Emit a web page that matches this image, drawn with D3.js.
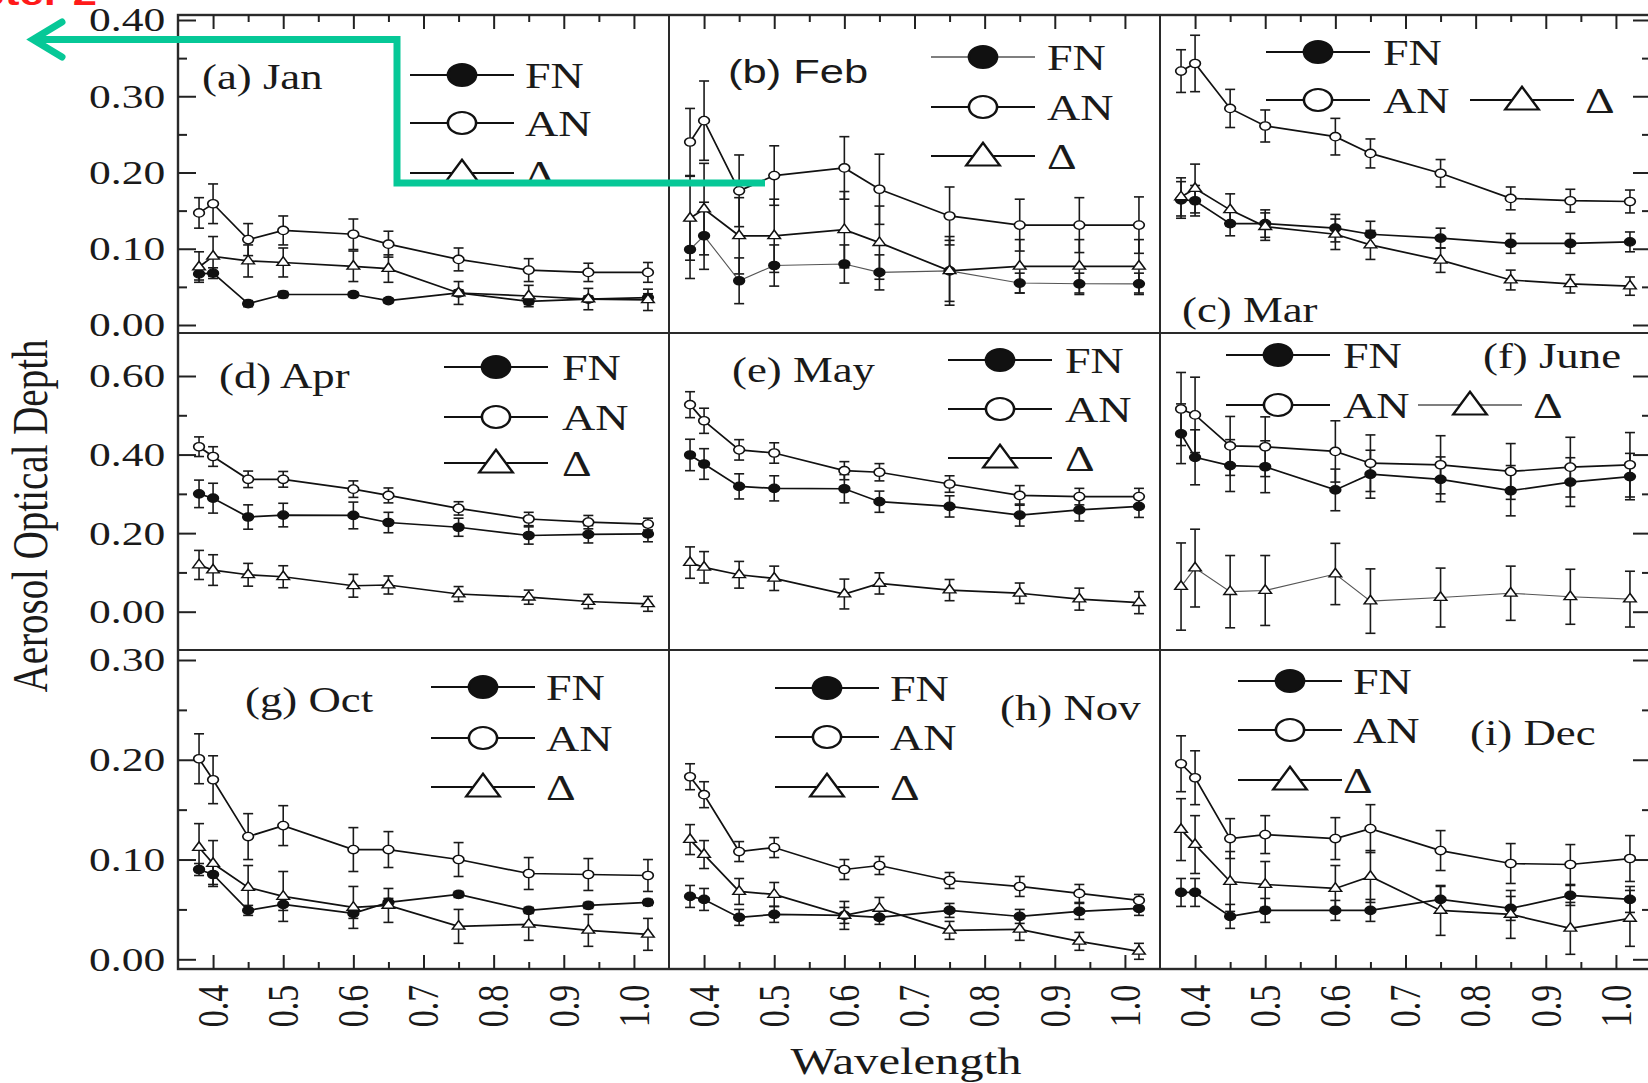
<!DOCTYPE html>
<html>
<head>
<meta charset="utf-8">
<script src="https://cdn.jsdelivr.net/npm/d3@7"></script>
<style>
  body { margin: 0; background: #fff; }
  svg { display: block; }
</style>
</head>
<body>
<div id="chart"></div>
<script>
// wavelengths (um) and tick values
const wavelengths = [0.38, 0.40, 0.45, 0.50, 0.60, 0.65, 0.75, 0.85, 0.935, 1.02];
const xTicks = [0.4, 0.5, 0.6, 0.7, 0.8, 0.9, 1.0];
const xMinor = [0.45, 0.55, 0.65, 0.75, 0.85, 0.95];
const yTicksRow = [[0, 0.1, 0.2, 0.3, 0.4], [0, 0.2, 0.4, 0.6], [0, 0.1, 0.2, 0.3]];
const yMinorRow = [[0.05, 0.15, 0.25, 0.35], [0.1, 0.3, 0.5], [0.05, 0.15, 0.25]];
const panelLabels = ["(a) Jan", "(b) Feb", "(c) Mar", "(d) Apr", "(e) May", "(f) June", "(g) Oct", "(h) Nov", "(i) Dec"];

// AOD per month: FN, AN, delta (value + error half-width)
const janFN  = [0.067, 0.068, 0.028, 0.040, 0.040, 0.032, 0.042, 0.031, 0.034, 0.036];
const janFNe = [0.008, 0.007, 0.004, 0.004, 0.003, 0.003, 0.004, 0.004, 0.004, 0.005];
const janAN  = [0.147, 0.159, 0.112, 0.124, 0.119, 0.106, 0.086, 0.072, 0.069, 0.069];
const janANe = [0.020, 0.026, 0.021, 0.019, 0.020, 0.017, 0.015, 0.015, 0.012, 0.013];
const janD   = [0.076, 0.090, 0.084, 0.082, 0.077, 0.074, 0.042, 0.038, 0.034, 0.033];
const janDe  = [0.020, 0.026, 0.021, 0.019, 0.020, 0.018, 0.015, 0.014, 0.014, 0.014];

const febFN  = [0.099, 0.117, 0.058, 0.078, 0.080, 0.069, 0.071, 0.055, 0.054, 0.054];
const febFNe = [0.038, 0.044, 0.030, 0.027, 0.025, 0.023, 0.040, 0.013, 0.014, 0.014];
const febAN  = [0.240, 0.268, 0.176, 0.196, 0.206, 0.178, 0.143, 0.131, 0.131, 0.131];
const febANe = [0.044, 0.052, 0.047, 0.039, 0.041, 0.046, 0.038, 0.034, 0.036, 0.037];
const febD   = [0.140, 0.152, 0.117, 0.117, 0.125, 0.108, 0.071, 0.077, 0.077, 0.077];
const febDe  = [0.055, 0.060, 0.050, 0.048, 0.050, 0.048, 0.045, 0.035, 0.035, 0.035];

const marFN  = [0.164, 0.163, 0.133, 0.133, 0.127, 0.119, 0.114, 0.107, 0.107, 0.109];
const marFNe = [0.024, 0.020, 0.016, 0.018, 0.018, 0.017, 0.013, 0.013, 0.013, 0.013];
const marAN  = [0.333, 0.343, 0.284, 0.261, 0.247, 0.225, 0.199, 0.166, 0.163, 0.162];
const marANe = [0.028, 0.037, 0.025, 0.021, 0.024, 0.019, 0.018, 0.015, 0.015, 0.015];
const marD   = [0.168, 0.179, 0.151, 0.129, 0.119, 0.105, 0.085, 0.059, 0.054, 0.051];
const marDe  = [0.025, 0.032, 0.021, 0.018, 0.020, 0.019, 0.016, 0.013, 0.012, 0.012];

const aprFN  = [0.300, 0.289, 0.241, 0.246, 0.245, 0.227, 0.215, 0.194, 0.197, 0.198];
const aprFNe = [0.035, 0.038, 0.031, 0.030, 0.034, 0.026, 0.023, 0.022, 0.022, 0.020];
const aprAN  = [0.420, 0.395, 0.337, 0.337, 0.312, 0.296, 0.263, 0.236, 0.228, 0.223];
const aprANe = [0.025, 0.025, 0.021, 0.020, 0.021, 0.019, 0.017, 0.017, 0.017, 0.015];
const aprD   = [0.119, 0.106, 0.094, 0.089, 0.066, 0.068, 0.045, 0.037, 0.026, 0.020];
const aprDe  = [0.037, 0.039, 0.029, 0.028, 0.029, 0.023, 0.019, 0.018, 0.018, 0.019];

const mayFN  = [0.399, 0.376, 0.319, 0.314, 0.313, 0.280, 0.268, 0.246, 0.259, 0.268];
const mayFNe = [0.040, 0.039, 0.032, 0.032, 0.036, 0.027, 0.027, 0.028, 0.028, 0.028];
const mayAN  = [0.527, 0.486, 0.412, 0.404, 0.359, 0.355, 0.325, 0.296, 0.293, 0.293];
const mayANe = [0.033, 0.032, 0.026, 0.026, 0.023, 0.022, 0.021, 0.025, 0.021, 0.021];
const mayD   = [0.125, 0.113, 0.094, 0.085, 0.045, 0.072, 0.055, 0.047, 0.032, 0.023];
const mayDe  = [0.040, 0.040, 0.034, 0.031, 0.038, 0.027, 0.027, 0.026, 0.028, 0.028];

const junFN  = [0.453, 0.393, 0.372, 0.369, 0.310, 0.350, 0.337, 0.308, 0.330, 0.344];
const junFNe = [0.076, 0.070, 0.066, 0.066, 0.053, 0.061, 0.057, 0.064, 0.062, 0.059];
const junAN  = [0.516, 0.501, 0.422, 0.420, 0.408, 0.378, 0.374, 0.357, 0.368, 0.374];
const junANe = [0.093, 0.096, 0.075, 0.076, 0.078, 0.072, 0.074, 0.071, 0.076, 0.082];
const junD   = [0.064, 0.111, 0.051, 0.054, 0.096, 0.027, 0.036, 0.047, 0.038, 0.032];
const junDe  = [0.111, 0.099, 0.092, 0.089, 0.078, 0.082, 0.075, 0.069, 0.070, 0.071];

const octFN  = [0.090, 0.085, 0.049, 0.055, 0.046, 0.057, 0.065, 0.049, 0.054, 0.057];
const octFNe = [0.006, 0.010, 0.005, 0.006, 0.005, 0.004, 0.003, 0.003, 0.003, 0.003];
const octAN  = [0.201, 0.180, 0.123, 0.134, 0.110, 0.110, 0.100, 0.086, 0.085, 0.084];
const octANe = [0.025, 0.024, 0.023, 0.020, 0.022, 0.018, 0.017, 0.016, 0.016, 0.016];
const octD   = [0.112, 0.096, 0.072, 0.063, 0.052, 0.054, 0.033, 0.035, 0.029, 0.025];
const octDe  = [0.024, 0.023, 0.022, 0.025, 0.021, 0.017, 0.017, 0.016, 0.016, 0.016];

const novFN  = [0.063, 0.060, 0.042, 0.045, 0.044, 0.042, 0.049, 0.043, 0.048, 0.051];
const novFNe = [0.011, 0.011, 0.008, 0.008, 0.008, 0.007, 0.007, 0.007, 0.008, 0.007];
const novAN  = [0.183, 0.165, 0.108, 0.112, 0.090, 0.094, 0.079, 0.073, 0.066, 0.059];
const novANe = [0.013, 0.013, 0.010, 0.010, 0.010, 0.009, 0.008, 0.010, 0.009, 0.006];
const novD   = [0.120, 0.105, 0.068, 0.065, 0.044, 0.051, 0.029, 0.030, 0.018, 0.008];
const novDe  = [0.015, 0.014, 0.013, 0.012, 0.014, 0.011, 0.009, 0.011, 0.009, 0.008];

const decFN  = [0.067, 0.067, 0.043, 0.049, 0.049, 0.049, 0.060, 0.051, 0.064, 0.060];
const decFNe = [0.014, 0.014, 0.012, 0.012, 0.010, 0.011, 0.013, 0.012, 0.010, 0.013];
const decAN  = [0.196, 0.182, 0.121, 0.125, 0.121, 0.131, 0.109, 0.096, 0.095, 0.101];
const decANe = [0.028, 0.027, 0.020, 0.019, 0.021, 0.024, 0.020, 0.020, 0.020, 0.023];
const decD   = [0.130, 0.115, 0.078, 0.075, 0.071, 0.083, 0.049, 0.045, 0.031, 0.041];
const decDe  = [0.031, 0.029, 0.030, 0.023, 0.023, 0.026, 0.025, 0.024, 0.026, 0.028];

// ---- layout ----
const W = 1648, H = 1083;
const SX = 1.28;   // the figure is stretched horizontally
const serif = "'Liberation Serif','Times New Roman',serif";
const sans = "'Liberation Sans',Arial,sans-serif";
const colX = [178, 669, 1160], colW = 491;
const rowTop = [15, 333, 650], rowBot = [333, 650, 969];
const rowZero = [325, 611.7, 959.3], rowTopTick = [20, 376, 660];

const series = [
  { key: "FN", name: "FN", type: d3.symbolCircle, size: 55, legSize: 380, fill: "#111" },
  { key: "AN", name: "AN", type: d3.symbolCircle, size: 55, legSize: 380, fill: "#fff" },
  { key: "D",  name: "\u0394", type: d3.symbolTriangle, size: 42, legSize: 300, fill: "#fff" }
];

// legend placement per panel: [markerX, y, labelX] for FN, AN, delta
const legendPos = [
  [[462, 75, 525], [462, 123, 525], [462, 173, 525]],
  [[983, 57, 1047], [983, 107, 1047], [983, 156, 1047]],
  [[1318, 52, 1383], [1318, 100, 1383], [1522, 100, 1585]],
  [[496, 367, 562], [496, 417, 562], [496, 463, 562]],
  [[1000, 360, 1065], [1000, 409, 1065], [1000, 458, 1065]],
  [[1278, 355, 1343], [1278, 405, 1343], [1470, 405, 1533]],
  [[483, 687, 546], [483, 738, 546], [483, 787, 546]],
  [[827, 688, 890], [827, 737, 890], [827, 787, 890]],
  [[1290, 681, 1353], [1290, 730, 1353], [1290, 780, 1343]]
];
const labelPos = [[202, 89], [728, 83], [1182, 322], [219, 388], [732, 382], [1483, 368], [245, 712], [1000, 720], [1470, 745]];

const panels = [
  { r: 0, c: 0, FN: janFN, FNe: janFNe, AN: janAN, ANe: janANe, D: janD, De: janDe },
  { r: 0, c: 1, FN: febFN, FNe: febFNe, AN: febAN, ANe: febANe, D: febD, De: febDe, thin: "FN", sansLabel: true },
  { r: 0, c: 2, FN: marFN, FNe: marFNe, AN: marAN, ANe: marANe, D: marD, De: marDe },
  { r: 1, c: 0, FN: aprFN, FNe: aprFNe, AN: aprAN, ANe: aprANe, D: aprD, De: aprDe },
  { r: 1, c: 1, FN: mayFN, FNe: mayFNe, AN: mayAN, ANe: mayANe, D: mayD, De: mayDe },
  { r: 1, c: 2, FN: junFN, FNe: junFNe, AN: junAN, ANe: junANe, D: junD, De: junDe, thin: "D" },
  { r: 2, c: 0, FN: octFN, FNe: octFNe, AN: octAN, ANe: octANe, D: octD, De: octDe },
  { r: 2, c: 1, FN: novFN, FNe: novFNe, AN: novAN, ANe: novANe, D: novD, De: novDe },
  { r: 2, c: 2, FN: decFN, FNe: decFNe, AN: decAN, ANe: decANe, D: decD, De: decDe }
];

const svg = d3.select("#chart").append("svg")
  .attr("width", W).attr("height", H)
  .style("background", "#fff");

// text helper: stretched glyphs like the original
function addText(g, x, y, str, size, opts = {}) {
  const rot = opts.rotate ? ` rotate(${opts.rotate})` : "";
  return g.append("text")
    .attr("transform", `translate(${x},${y}) scale(${SX},1)${rot}`)
    .attr("y", opts.dy || 0)
    .attr("text-anchor", opts.anchor || "start")
    .attr("font-family", opts.family || serif)
    .attr("font-size", size)
    .attr("font-weight", opts.weight || "normal")
    .attr("fill", opts.fill || "#1a1a1a")
    .text(str);
}

function xScale(c) {
  return d3.scaleLinear().domain([0.35, 1.05]).range([colX[c], colX[c] + colW]);
}
function yScale(r) {
  const top = d3.max(yTicksRow[r]);
  return d3.scaleLinear().domain([0, top]).range([rowZero[r], rowTopTick[r]]);
}

function styleAxis(g) {
  g.select(".domain").remove();
  g.selectAll(".tick line").attr("stroke", "#222").attr("stroke-width", 2);
}

// ---- frame and axes ----
const frame = svg.append("g");
frame.append("rect")
  .attr("x", colX[0]).attr("y", rowTop[0])
  .attr("width", colX[2] + colW - colX[0]).attr("height", rowBot[2] - rowTop[0])
  .attr("fill", "none").attr("stroke", "#2a2a2a").attr("stroke-width", 2.4);
[colX[1], colX[2]].forEach(cx => {
  frame.append("line").attr("x1", cx).attr("x2", cx).attr("y1", rowTop[0]).attr("y2", rowBot[2])
    .attr("stroke", "#2a2a2a").attr("stroke-width", 2);
});
[rowTop[1], rowTop[2]].forEach(ry => {
  frame.append("line").attr("x1", colX[0]).attr("x2", colX[2] + colW).attr("y1", ry).attr("y2", ry)
    .attr("stroke", "#2a2a2a").attr("stroke-width", 2);
});

[0, 1, 2].forEach(c => {
  const x = xScale(c);
  // top ticks (inward)
  frame.append("g").attr("transform", `translate(0,${rowTop[0]})`)
    .call(d3.axisTop(x).tickValues(xTicks).tickSizeInner(-14).tickSizeOuter(0).tickFormat(""))
    .call(styleAxis);
  frame.append("g").attr("transform", `translate(0,${rowTop[0]})`)
    .call(d3.axisTop(x).tickValues(xMinor).tickSizeInner(-7).tickSizeOuter(0).tickFormat(""))
    .call(styleAxis);
  // bottom ticks (inward)
  frame.append("g").attr("transform", `translate(0,${rowBot[2]})`)
    .call(d3.axisBottom(x).tickValues(xTicks).tickSizeInner(-14).tickSizeOuter(0).tickFormat(""))
    .call(styleAxis);
  frame.append("g").attr("transform", `translate(0,${rowBot[2]})`)
    .call(d3.axisBottom(x).tickValues(xMinor).tickSizeInner(-7).tickSizeOuter(0).tickFormat(""))
    .call(styleAxis);
  // rotated bottom labels
  xTicks.forEach(t => {
    addText(frame, x(t), 1006, d3.format(".1f")(t), 34, { anchor: "middle", rotate: -90, dy: "0.34em" });
  });
});

[0, 1, 2].forEach(r => {
  const y = yScale(r);
  const left = frame.append("g").attr("transform", `translate(${colX[0]},0)`)
    .call(d3.axisLeft(y).tickValues(yTicksRow[r]).tickSizeInner(-18).tickSizeOuter(0)
      .tickPadding(10).tickFormat(d3.format(".2f")))
    .call(styleAxis);
  left.selectAll(".tick text")
    .attr("font-family", serif).attr("font-size", 34).attr("fill", "#1a1a1a")
    .attr("transform", `scale(${SX},1)`);
  frame.append("g").attr("transform", `translate(${colX[0]},0)`)
    .call(d3.axisLeft(y).tickValues(yMinorRow[r]).tickSizeInner(-9).tickSizeOuter(0).tickFormat(""))
    .call(styleAxis);
  const rx = colX[2] + colW;
  frame.append("g").attr("transform", `translate(${rx},0)`)
    .call(d3.axisRight(y).tickValues(yTicksRow[r]).tickSizeInner(-18).tickSizeOuter(0).tickFormat(""))
    .call(styleAxis);
  frame.append("g").attr("transform", `translate(${rx},0)`)
    .call(d3.axisRight(y).tickValues(yMinorRow[r]).tickSizeInner(-9).tickSizeOuter(0).tickFormat(""))
    .call(styleAxis);
});

// axis titles
addText(svg, 30, 516, "Aerosol Optical Depth", 39, { anchor: "middle", rotate: -90, dy: "0.34em" });
addText(svg, 906, 1074, "Wavelength", 38, { anchor: "middle" });

// ---- panels ----
panels.forEach((p, pi) => {
  const x = xScale(p.c), y = yScale(p.r);
  const g = svg.append("g");
  const lineStyle = key => p.thin === key
    ? { stroke: "#555", width: 1.1 }
    : { stroke: "#111", width: 1.7 };

  const pts = series.map(s => wavelengths.map((w, i) => ({ w, v: p[s.key][i], e: p[s.key + "e"][i] })));

  // connecting lines
  series.forEach((s, si) => {
    const st = lineStyle(s.key);
    g.append("path").datum(pts[si])
      .attr("d", d3.line().x(d => x(d.w)).y(d => y(d.v)))
      .attr("fill", "none").attr("stroke", st.stroke).attr("stroke-width", st.width);
  });

  // error bars
  series.forEach((s, si) => {
    const eb = g.append("g").attr("stroke", "#1a1a1a").attr("stroke-width", 1.6);
    eb.selectAll("line.v").data(pts[si]).join("line")
      .attr("x1", d => x(d.w)).attr("x2", d => x(d.w))
      .attr("y1", d => y(d.v - d.e)).attr("y2", d => y(d.v + d.e));
    eb.selectAll("line.top").data(pts[si]).join("line")
      .attr("x1", d => x(d.w) - 5).attr("x2", d => x(d.w) + 5)
      .attr("y1", d => y(d.v + d.e)).attr("y2", d => y(d.v + d.e));
    eb.selectAll("line.bot").data(pts[si]).join("line")
      .attr("x1", d => x(d.w) - 5).attr("x2", d => x(d.w) + 5)
      .attr("y1", d => y(d.v - d.e)).attr("y2", d => y(d.v - d.e));
  });

  // markers
  series.forEach((s, si) => {
    g.selectAll(null).data(pts[si]).join("path")
      .attr("d", d3.symbol().type(s.type).size(s.size))
      .attr("transform", d => `translate(${x(d.w)},${y(d.v)}) scale(${SX},1)`)
      .attr("fill", s.fill).attr("stroke", "#111").attr("stroke-width", 1.3);
  });

  // legend
  series.forEach((s, si) => {
    const [mx, ly, lx] = legendPos[pi][si];
    const st = lineStyle(s.key);
    g.append("line").attr("x1", mx - 52).attr("x2", mx + 52).attr("y1", ly).attr("y2", ly)
      .attr("stroke", st.stroke).attr("stroke-width", st.width + 0.4);
    g.append("path")
      .attr("d", d3.symbol().type(s.type).size(s.legSize))
      .attr("transform", `translate(${mx},${ly + (s.key === "D" ? 2 : 0)}) scale(${SX},1)`)
      .attr("fill", s.fill).attr("stroke", "#111").attr("stroke-width", 2);
    addText(g, lx, ly, s.name, 36, { dy: "0.35em" });
  });

  // panel label
  const [tx, ty] = labelPos[pi];
  addText(g, tx, ty, panelLabels[pi], p.sansLabel ? 34 : 35, { family: p.sansLabel ? sans : serif });
});

// ---- overlay annotation (red caption and green arrow) ----
addText(svg, 97, 5, "Chapter 2", 34, { anchor: "end", family: sans, weight: "bold", fill: "#ff1a1a" });
const arrow = svg.append("g").attr("fill", "none").attr("stroke", "#06c897")
  .attr("stroke-width", 7).attr("stroke-linejoin", "miter");
arrow.append("path").attr("d", "M765,183 L397,183 L397,39.5 L33,39.5");
arrow.append("path").attr("d", "M62,22 L33,39.5 L62,57").attr("stroke-linecap", "round");
</script>
</body>
</html>
